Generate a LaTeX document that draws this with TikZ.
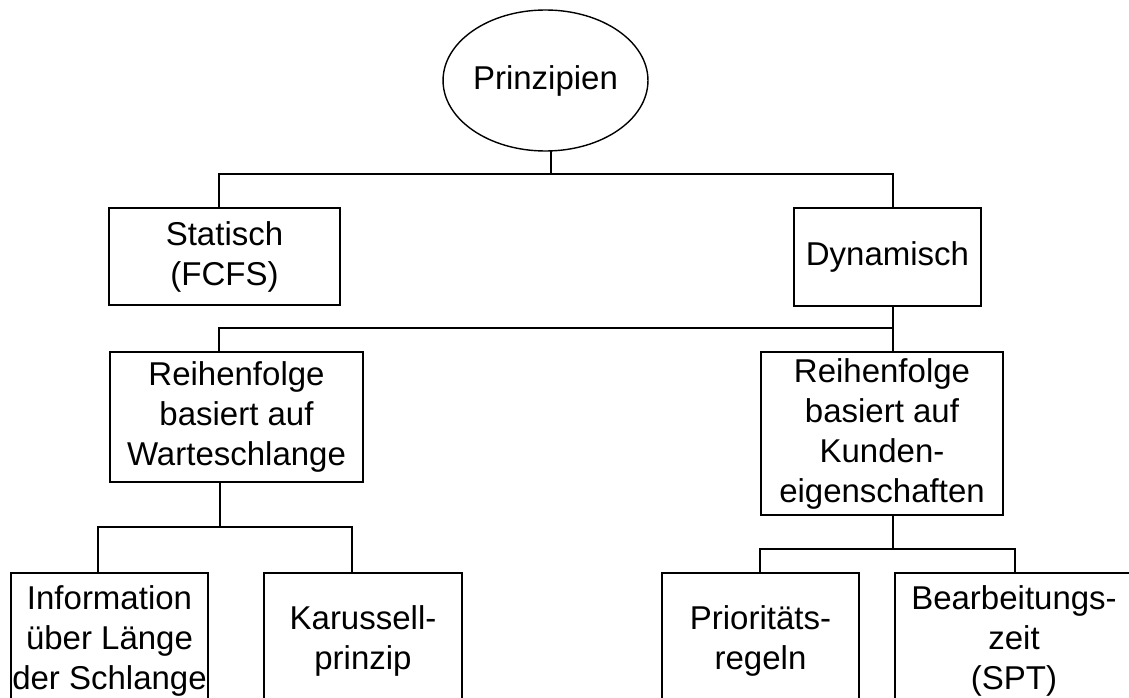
\documentclass[tikz,border=0pt]{standalone}
\usepackage{fontspec}
\setmainfont{Liberation Sans}
\usetikzlibrary{shapes.geometric}
\begin{document}
\begin{tikzpicture}[x=1pt,y=-1pt,
  every node/.style={inner sep=0pt,outer sep=0pt,align=center,
    font=\fontsize{33}{40}\selectfont},
  box/.style={draw,line width=1.4pt,rectangle},
  conn/.style={line width=1.4pt}]
\useasboundingbox (0,0) rectangle (1129,698);
\clip (0,0) rectangle (1129,698);
\fill[white] (0,0) rectangle (1129,698);
% nodes
\node[draw,line width=1.4pt,ellipse,minimum width=165pt,minimum height=141pt] (ell) at (545.5,80.5) {Prinzipien};
\node[box,minimum width=231pt,minimum height=97pt] (stat) at (224.5,256.5) {Statisch\\(FCFS)};
\node[box,minimum width=187pt,minimum height=98pt] (dyn) at (887.5,257) {Dynamisch};
\node[box,minimum width=253pt,minimum height=130pt] (rw) at (236.5,417) {Reihenfolge\\basiert auf\\Warteschlange};
\node[box,minimum width=242pt,minimum height=163pt] (rk) at (882,433.5) {Reihenfolge\\basiert auf\\Kunden-\\eigenschaften};
\node[box,minimum width=197pt,minimum height=136pt] (info) at (109.5,641) {Information\\über Länge\\der Schlange};
\node[box,minimum width=198pt,minimum height=136pt] (kar) at (363,641) {Karussell-\\prinzip};
\node[box,minimum width=197pt,minimum height=136pt] (prio) at (760.5,641) {Prioritäts-\\regeln};
\node[box,minimum width=238pt,minimum height=136pt] (bear) at (1014,641) {Bearbeitungs-\\zeit\\(SPT)};
% junction coordinates
\coordinate (j0) at (551,174);
\coordinate (jl1) at (219,174);
\coordinate (jr1) at (893,174);
\coordinate (jl2) at (219,328);
\coordinate (jr2) at (893,328);
\coordinate (j3) at (220,527);
\coordinate (j3l) at (98,527);
\coordinate (j3r) at (352,527);
\coordinate (j4) at (893,549);
\coordinate (j4l) at (760,549);
\coordinate (j4r) at (1015,549);
% connectors
\draw[conn] (j0 |- ell.south) -- (j0);
\draw[conn] (jl1 |- stat.north) -- (jl1) -- (jr1) -- (jr1 |- dyn.north);
\draw[conn] (jr2 |- dyn.south) -- (jr2 |- rk.north);
\draw[conn] (jr2) -- (jl2) -- (jl2 |- rw.north);
\draw[conn] (j3 |- rw.south) -- (j3);
\draw[conn] (j3l |- info.north) -- (j3l) -- (j3r) -- (j3r |- kar.north);
\draw[conn] (j4 |- rk.south) -- (j4);
\draw[conn] (j4l |- prio.north) -- (j4l) -- (j4r) -- (j4r |- bear.north);
\end{tikzpicture}
\end{document}
